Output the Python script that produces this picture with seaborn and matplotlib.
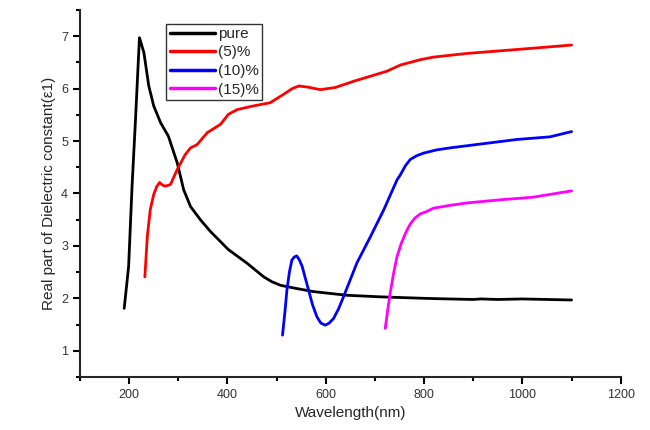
import matplotlib
matplotlib.use("Agg")
import matplotlib.pyplot as plt
import pandas as pd
import seaborn as sns
from matplotlib.ticker import MultipleLocator

# values
pure_wl = [190, 199, 206, 213, 221, 230, 240, 250, 264, 280, 298, 311, 325, 345,
           365, 402, 440, 474, 490, 508, 540, 575, 643, 711, 806, 850, 900, 915,
           950, 1000, 1050, 1100]
pure_eps = [1.81, 2.61, 4.14, 5.41, 6.97, 6.69, 6.05, 5.67, 5.35, 5.09, 4.58, 4.07,
            3.75, 3.50, 3.28, 2.93, 2.67, 2.41, 2.32, 2.25, 2.19, 2.13, 2.06, 2.03,
            2.00, 1.99, 1.98, 1.99, 1.98, 1.99, 1.98, 1.97]

p5_wl = [232, 237, 243, 250, 256, 262, 268, 274, 284, 298, 314, 325, 338, 359,
         386, 402, 420, 453, 487, 514, 532, 545, 562, 589, 619, 657, 724, 752,
         792, 819, 887, 955, 1022, 1100]
p5_eps = [2.41, 3.18, 3.69, 3.98, 4.13, 4.21, 4.16, 4.14, 4.17, 4.46, 4.74, 4.87,
          4.93, 5.16, 5.32, 5.51, 5.60, 5.67, 5.73, 5.89, 6.00, 6.05, 6.03, 5.98,
          6.02, 6.14, 6.33, 6.45, 6.55, 6.60, 6.67, 6.72, 6.77, 6.83]

p10_wl = [512, 517, 521, 526, 531, 536, 541, 546, 552, 558, 565, 573, 582, 590,
          599, 607, 616, 626, 636, 650, 663, 691, 718, 735, 745, 752, 762, 772,
          785, 799, 825, 853, 921, 989, 1056, 1100]
p10_eps = [1.30, 1.75, 2.16, 2.50, 2.73, 2.79, 2.81, 2.74, 2.61, 2.40, 2.16, 1.88,
           1.65, 1.53, 1.49, 1.53, 1.62, 1.80, 2.03, 2.36, 2.67, 3.18, 3.69, 4.05,
           4.26, 4.36, 4.53, 4.65, 4.72, 4.77, 4.83, 4.87, 4.95, 5.03, 5.08, 5.18]

p15_wl = [721, 726, 731, 738, 745, 754, 764, 772, 781, 792, 806, 819, 850, 887,
          955, 1022, 1100]
p15_eps = [1.43, 1.78, 2.10, 2.48, 2.80, 3.06, 3.28, 3.42, 3.53, 3.61, 3.66, 3.72,
           3.77, 3.82, 3.88, 3.93, 4.05]

labels = ["pure", "(5)%", "(10)%", "(15)%"]
colors = ["black", "red", "blue", "magenta"]

sns.set_style("ticks")
plt.rcParams["font.family"] = ["Liberation Sans", "DejaVu Sans"]

fig, ax = plt.subplots(figsize=(6.5, 4.3), dpi=100)
fig.subplots_adjust(left=0.123, right=0.955, top=0.977, bottom=0.123)

series = [(pure_wl, pure_eps), (p5_wl, p5_eps), (p10_wl, p10_eps), (p15_wl, p15_eps)]
for (wl, eps), label, color in zip(series, labels, colors):
    df = pd.DataFrame({"wl": wl, "eps": eps})
    sns.lineplot(data=df, x="wl", y="eps", color=color, lw=2.0, label=label,
                 sort=False, estimator=None, ax=ax)

ax.set_xlim(100, 1200)
ax.set_ylim(0.5, 7.5)
ax.xaxis.set_major_locator(MultipleLocator(200))
ax.xaxis.set_minor_locator(MultipleLocator(100))
ax.yaxis.set_major_locator(MultipleLocator(1))
ax.yaxis.set_minor_locator(MultipleLocator(0.5))
ax.tick_params(which="both", direction="out", width=1.5, colors="black",
               labelcolor="#333333", labelsize=9)
ax.tick_params(which="major", length=5)
ax.tick_params(which="minor", length=3)
for side in ["left", "bottom"]:
    ax.spines[side].set_linewidth(1.5)
sns.despine(ax=ax)

ax.set_xlabel("Wavelength(nm)", fontsize=11)
ax.set_ylabel("Real part of Dielectric constant(ε1)", fontsize=11)

leg = ax.legend(loc="upper left", bbox_to_anchor=(0.16, 0.962), fontsize=11,
                handlelength=3.0, handletextpad=0.2, labelspacing=0.3,
                borderpad=0.2, borderaxespad=0, fancybox=False, framealpha=1)
leg.get_frame().set_edgecolor("#333333")
leg.get_frame().set_linewidth(1.0)
for line in leg.get_lines():
    line.set_linewidth(2.5)

plt.savefig("out.png", dpi=100)
